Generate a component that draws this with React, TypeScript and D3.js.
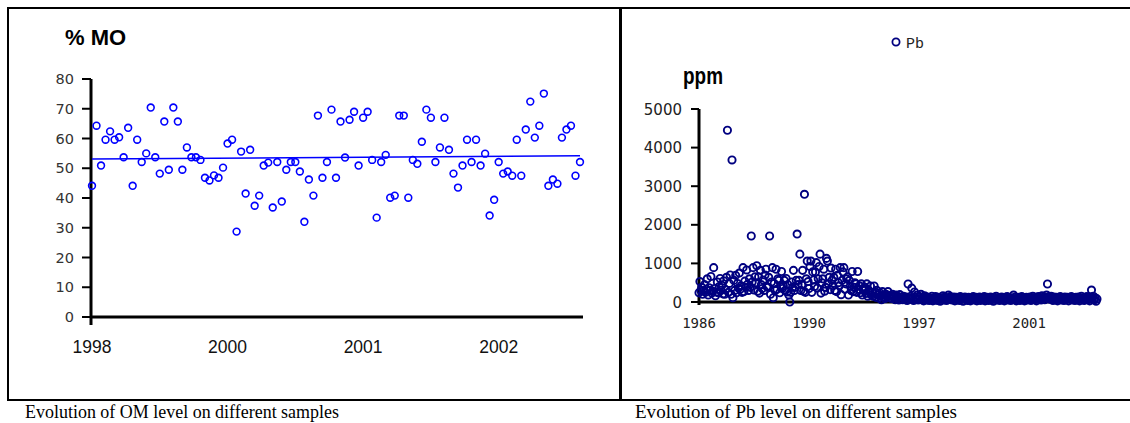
import * as d3 from "d3";

// % MO (organic matter) samples, in sample order
const omValues = [
  44.1, 64.3, 50.9, 59.6, 62.4, 59.6, 60.4, 53.7, 63.6, 44.1,
  59.6, 52.1, 55.0, 70.4, 53.7, 48.2, 65.7, 49.5, 70.4, 65.7,
  49.5, 57.0, 53.7, 53.7, 52.8, 46.8, 45.9, 47.6, 46.8, 50.2,
  58.3, 59.6, 28.7, 55.6, 41.5, 56.2, 37.4, 40.8, 50.9, 51.9,
  36.8, 52.1, 38.8, 49.5, 52.1, 52.1, 48.9, 32.0, 46.2, 40.8,
  67.7, 46.8, 52.1, 69.7, 46.8, 65.7, 53.6, 66.3, 69.0, 50.9,
  67.0, 69.0, 52.8, 33.4, 52.1, 54.5, 40.1, 40.8, 67.7, 67.7,
  40.1, 52.8, 51.5, 58.9, 69.7, 67.0, 52.1, 57.0, 67.0, 56.2,
  48.2, 43.5, 50.9, 59.6, 52.1, 59.6, 50.9, 54.9, 34.1, 39.4,
  52.1, 48.2, 48.9, 47.5, 59.6, 47.5, 63.0, 72.4, 60.3, 64.3,
  75.1, 44.1, 46.2, 44.8, 60.3, 63.0, 64.3, 47.5, 52.1,
];
const omTrend = [53.1, 54.2]; // linear trend, first and last sample
const omTickIndex = [0, 30, 60, 90];
const omTickLabels = ["1998", "2000", "2001", "2002"];
const omYTicks = [0, 10, 20, 30, 40, 50, 60, 70, 80];

// Pb (ppm) samples, in sample order
const pbValues = [
  240, 530, 300, 380, 200, 290, 450, 250, 330, 600, 180, 370, 300, 660, 230,
  280, 890, 350, 160, 260, 520, 240, 400, 610, 300, 430, 210, 550, 200, 320,
  640, 4450, 250, 480, 700, 200, 3680, 110, 560, 300, 690, 240, 480, 360, 750,
  330, 420, 250, 890, 270, 540, 380, 830, 460, 300, 600, 380, 1710, 520, 890,
  310, 650, 500, 940, 280, 650, 230, 820, 450, 350, 570, 300, 700, 850, 400,
  380, 640, 1710, 200, 520, 890, 110, 480, 300, 850, 330, 600, 560, 240, 420,
  790, 350, 420, 560, 300, 610, 260, 450, 180, 0, 250, 520, 380, 820, 300,
  380, 560, 1760, 450, 560, 1240, 300, 450, 820, 280, 2790, 250, 600, 1060, 530,
  350, 920, 1060, 250, 780, 570, 400, 780, 1020, 360, 600, 920, 1240, 230, 500,
  600, 850, 280, 380, 1130, 1060, 470, 640, 320, 880, 560, 420, 640, 300, 850,
  270, 690, 500, 420, 890, 190, 560, 780, 890, 330, 470, 600, 650, 180, 560,
  410, 300, 790, 270, 380, 500, 470, 250, 790, 330, 420, 240, 470, 180, 350,
  300, 380, 220, 470, 150, 300, 260, 415, 180, 240, 150, 415, 260, 120, 300,
  180, 100, 240, 150, 60, 270, 180, 120, 90, 200, 140, 270, 160, 110, 170,
  90, 200, 130, 160, 60, 180, 110, 140, 50, 190, 80, 130, 60, 150, 100,
  60, 130, 40, 466, 110, 80, 150, 360, 90, 40, 260, 120, 70, 180, 50,
  140, 90, 200, 60, 120, 30, 160, 100, 50, 130, 80, 40, 110, 70, 150,
  30, 100, 60, 140, 90, 40, 120, 70, 20, 110, 80, 160, 50, 130, 90,
  40, 100, 180, 70, 140, 110, 50, 90, 130, 30, 80, 120, 60, 100, 40,
  140, 70, 110, 20, 90, 130, 60, 100, 40, 120, 80, 30, 110, 70, 140,
  50, 90, 120, 30, 100, 70, 130, 40, 80, 110, 60, 140, 30, 90, 120,
  70, 40, 100, 130, 60, 90, 20, 120, 80, 150, 50, 110, 70, 40, 100,
  130, 60, 90, 30, 120, 80, 140, 50, 100, 70, 40, 110, 90, 180, 60,
  130, 30, 100, 70, 120, 40, 90, 140, 60, 110, 30, 80, 120, 50, 100,
  70, 130, 40, 110, 150, 80, 60, 120, 30, 100, 140, 70, 110, 50, 160,
  90, 130, 60, 120, 180, 466, 100, 140, 70, 150, 110, 40, 130, 90, 60,
  120, 30, 100, 70, 140, 50, 110, 80, 40, 130, 60, 90, 120, 30, 100,
  70, 140, 50, 110, 80, 40, 120, 90, 60, 130, 30, 100, 150, 70, 110,
  40, 120, 80, 140, 60, 100, 30, 130, 310, 90, 150, 50, 110, 20, 80,
];
const pbTickIndex = [0, 120, 240, 360];
const pbTickLabels = ["1986", "1990", "1997", "2001"];
const pbYTicks = [0, 1000, 2000, 3000, 4000, 5000];

const W = 1130;
const H = 423;

const App = () => {
  // left chart scales
  const xOm = d3.scaleLinear().domain([0, omValues.length - 1]).range([92, 580]);
  const yOm = d3.scaleLinear().domain([0, 80]).range([317, 79]);

  // right chart scales
  const xPb = d3.scaleLinear().domain([0, pbValues.length - 1]).range([699, 1097]);
  const yPb = d3.scaleLinear().domain([0, 5000]).range([302, 109]);

  const tickFont = "'DejaVu Sans', Verdana, sans-serif";
  const serif = "'Liberation Serif', 'Times New Roman', serif";

  return (
    <svg
      width={W}
      height={H}
      style={{ position: "absolute", left: 0, top: 0, background: "#fff" }}
    >
      {/* panel frames */}
      <rect x={8} y={8} width={612} height={392} fill="none" stroke="#000" strokeWidth={2} />
      <rect x={621} y={8} width={520} height={392} fill="none" stroke="#000" strokeWidth={2} />

      {/* ---- %MO chart ---- */}
      <text x={65} y={45} fontFamily="Arial, 'Liberation Sans'" fontWeight="bold" fontSize={22}>
        % MO
      </text>
      {omYTicks.map((t) => (
        <g key={"omy" + t}>
          <line x1={82} x2={91} y1={yOm(t)} y2={yOm(t)} stroke="#000" strokeWidth={2} />
          <text
            x={74}
            y={yOm(t) + 5}
            textAnchor="end"
            fontFamily={tickFont}
            fontSize={14.5}
            fill="#333"
          >
            {t}
          </text>
        </g>
      ))}
      <line x1={91} x2={91} y1={79} y2={325} stroke="#000" strokeWidth={3} />
      <line x1={90} x2={583} y1={317} y2={317} stroke="#000" strokeWidth={3} />
      {omTickIndex.map((idx, i) => (
        <text
          key={"omx" + idx}
          x={xOm(idx)}
          y={353}
          textAnchor="middle"
          fontFamily="Arial, 'Liberation Sans'"
          fontSize={17.5}
          fill="#111"
        >
          {omTickLabels[i]}
        </text>
      ))}
      <line
        x1={xOm(0)}
        x2={xOm(omValues.length - 1)}
        y1={yOm(omTrend[0])}
        y2={yOm(omTrend[1])}
        stroke="#0000ff"
        strokeWidth={1.5}
      />
      {omValues.map((v, i) => (
        <circle
          key={"om" + i}
          cx={xOm(i)}
          cy={yOm(v)}
          r={3.4}
          fill="none"
          stroke="#0000ff"
          strokeWidth={1.6}
        />
      ))}

      {/* ---- Pb chart ---- */}
      <circle cx={896} cy={42} r={3.6} fill="none" stroke="#000080" strokeWidth={1.8} />
      <text x={906} y={48} fontFamily="'Liberation Mono', 'Courier New', monospace" fontSize={15} fill="#222">
        Pb
      </text>
      <text
        x={683}
        y={84}
        fontFamily="Arial, 'Liberation Sans'"
        fontWeight="bold"
        fontSize={24}
        textLength={40}
        lengthAdjust="spacingAndGlyphs"
      >
        ppm
      </text>
      {pbYTicks.map((t) => (
        <g key={"pby" + t}>
          <line x1={691} x2={699} y1={yPb(t)} y2={yPb(t)} stroke="#000" strokeWidth={2} />
          <text
            x={682}
            y={yPb(t) + 5.5}
            textAnchor="end"
            fontFamily={tickFont}
            fontSize={15}
            fill="#222"
          >
            {t}
          </text>
        </g>
      ))}
      <line x1={699} x2={699} y1={109} y2={305} stroke="#000" strokeWidth={3} />
      <line x1={698} x2={1095} y1={302} y2={302} stroke="#000" strokeWidth={3} />
      {pbTickIndex.map((idx, i) => (
        <text
          key={"pbx" + idx}
          x={xPb(idx)}
          y={328}
          textAnchor="middle"
          fontFamily="'DejaVu Sans Mono', monospace"
          fontSize={14}
          fill="#222"
        >
          {pbTickLabels[i]}
        </text>
      ))}
      {pbValues.map((v, i) => (
        <circle
          key={"pb" + i}
          cx={xPb(i)}
          cy={yPb(v)}
          r={3.6}
          fill="none"
          stroke="#000080"
          strokeWidth={1.9}
        />
      ))}

      {/* captions */}
      <text x={25} y={418} fontFamily={serif} fontSize={19} textLength={314} lengthAdjust="spacingAndGlyphs">
        Evolution of OM level on different samples
      </text>
      <text x={635} y={418} fontFamily={serif} fontSize={19} textLength={322} lengthAdjust="spacingAndGlyphs">
        Evolution of Pb level on different samples
      </text>
    </svg>
  );
};

export default App;
